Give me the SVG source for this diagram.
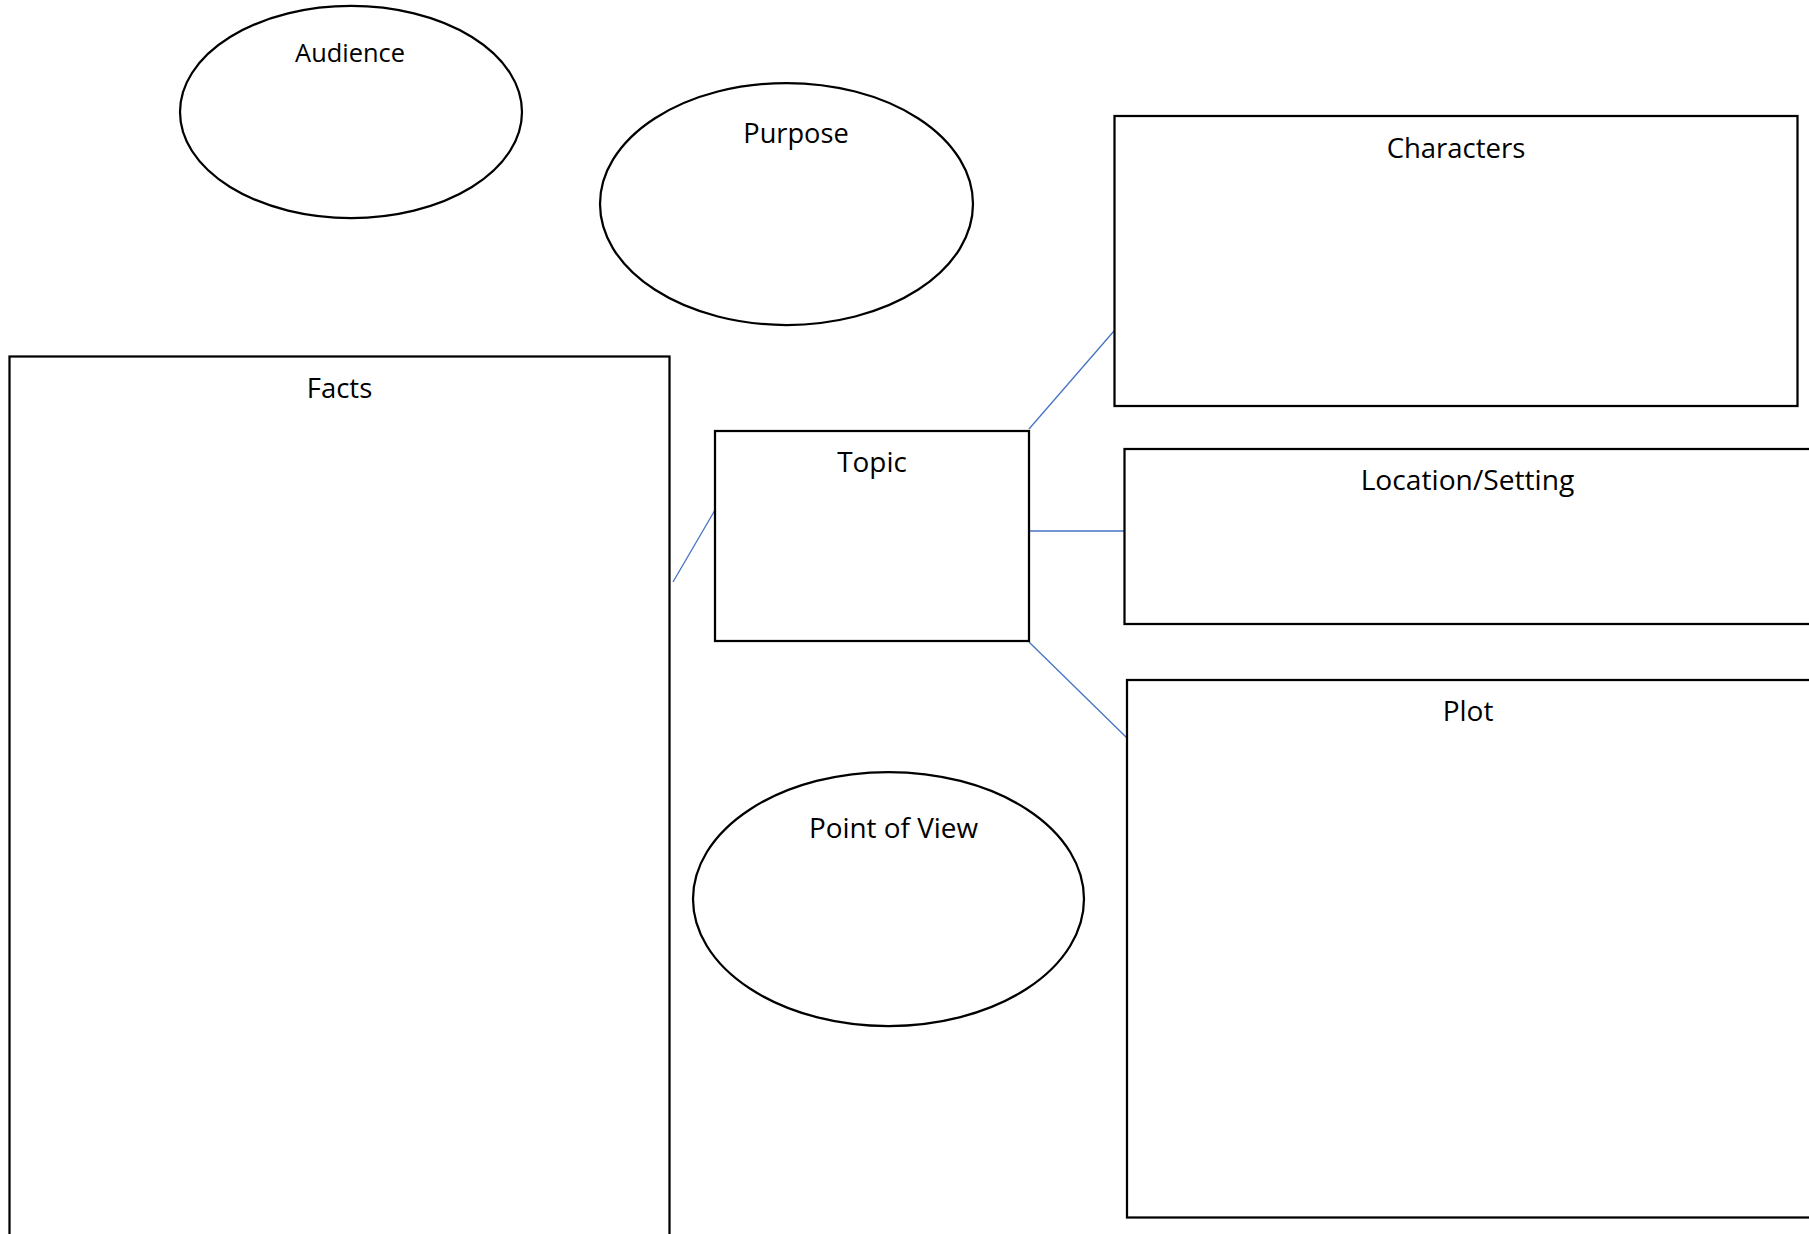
<svg xmlns="http://www.w3.org/2000/svg" width="1809" height="1234" viewBox="0 0 1809 1234">
<style>
.shape{fill:#ffffff;stroke:#000000;stroke-width:2.25}
.lbl{font-family:"Open Sans","Liberation Sans",sans-serif;fill:#000000;text-anchor:middle;font-size:27.5px}
.conn{stroke:#4472C4;stroke-width:1.3;fill:none}
</style>
<rect width="1809" height="1234" fill="#ffffff"/>
<g id="connectors">
<line class="conn" x1="673" y1="582" x2="715" y2="510"/>
<line class="conn" x1="1029" y1="429" x2="1114" y2="331"/>
<line class="conn" x1="1029" y1="531" x2="1124" y2="531"/>
<line class="conn" x1="1029" y1="642" x2="1127" y2="738"/>
</g>
<g id="audience">
<ellipse class="shape" cx="351" cy="112" rx="171" ry="106"/>
<text class="lbl" x="350" y="62" style="font-size:25.4px">Audience</text>
</g>
<g id="purpose">
<ellipse class="shape" cx="786.5" cy="204" rx="186.5" ry="121"/>
<text class="lbl" x="796" y="143" style="font-size:27.2px">Purpose</text>
</g>
<g id="characters">
<rect class="shape" x="1114.5" y="116" width="683" height="290"/>
<text class="lbl" x="1456" y="158">Characters</text>
</g>
<g id="facts">
<rect class="shape" x="9.5" y="356.5" width="660" height="900"/>
<text class="lbl" x="339.5" y="398">Facts</text>
</g>
<g id="topic">
<rect class="shape" x="715" y="431" width="314" height="210"/>
<text class="lbl" x="872" y="472" style="font-size:27.9px">Topic</text>
</g>
<g id="location">
<rect class="shape" x="1124.5" y="449" width="690" height="175"/>
<text class="lbl" x="1467.5" y="490" style="font-size:28.2px">Location/Setting</text>
</g>
<g id="plot">
<rect class="shape" x="1127" y="680" width="686" height="537.5"/>
<text class="lbl" x="1468" y="721" style="font-size:28px">Plot</text>
</g>
<g id="point-of-view">
<ellipse class="shape" cx="888.5" cy="899" rx="195.5" ry="127"/>
<text class="lbl" x="893.5" y="838" style="font-size:27.9px">Point of View</text>
</g>
</svg>
